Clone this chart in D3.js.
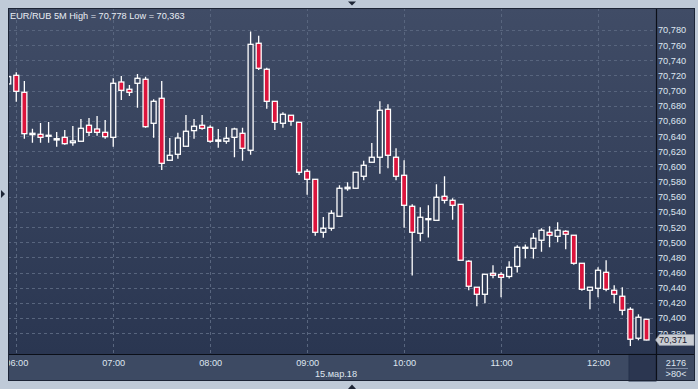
<!DOCTYPE html>
<html>
<head>
<meta charset="utf-8">
<script src="https://cdn.jsdelivr.net/npm/d3@7"></script>
<style>
  html, body { margin: 0; padding: 0; background: #bfcad8; overflow: hidden; }
  svg { display: block; font-family: "Liberation Sans", Arial, sans-serif; }
</style>
</head>
<body>
<div id="chart"></div>
<script>
// EUR/RUB 5 minute bars, 15.03.2018, first visible bar 05:55
const symbol = "EUR/RUB 5M";
const firstBar = "2018-03-15T05:55";
const dateLabel = "15.мар.18";
const barsTotal = 2176;
const barsVisible = 80;

const open = [
  70.7088, 70.7202, 70.6978, 70.6419, 70.6424, 70.6398, 70.6349, 70.6384, 70.6313, 70.6332,
  70.6543, 70.6494, 70.6450, 70.6384, 70.7114, 70.7018, 70.7097, 70.7150, 70.6569, 70.6899,
  70.6081, 70.6160, 70.6266, 70.6472, 70.6543, 70.6516, 70.6332, 70.6332, 70.6384, 70.6437,
  70.6213, 70.7625, 70.7282, 70.6859, 70.6569, 70.6675, 70.6582, 70.5936, 70.5830, 70.5131,
  70.5184, 70.5342, 70.5706, 70.5712, 70.5870, 70.6055, 70.6121, 70.6754, 70.6121, 70.5883,
  70.5474, 70.5118, 70.5297, 70.5289, 70.5606, 70.5553, 70.5500, 70.4749, 70.4406, 70.4313,
  70.4590, 70.4574, 70.4548, 70.4680, 70.4920, 70.4920, 70.5026, 70.5131, 70.5078, 70.5144,
  70.5092, 70.4722, 70.4366, 70.4392, 70.4603, 70.4366, 70.4287, 70.4115, 70.3733, 70.3983
];
const high = [
  70.7206, 70.7242, 70.7127, 70.6498, 70.6573, 70.6586, 70.6454, 70.6481, 70.6534, 70.6626,
  70.6639, 70.6665, 70.6613, 70.7163, 70.7193, 70.7074, 70.7220, 70.7184, 70.6886, 70.7127,
  70.6375, 70.6445, 70.6679, 70.6626, 70.6679, 70.6543, 70.6494, 70.6520, 70.6511, 70.6511,
  70.7780, 70.7725, 70.7303, 70.6859, 70.6714, 70.6675, 70.6582, 70.5966, 70.5830, 70.5333,
  70.5421, 70.5751, 70.5791, 70.5923, 70.6076, 70.6309, 70.6859, 70.6820, 70.6239, 70.6081,
  70.5500, 70.5461, 70.5487, 70.5764, 70.5871, 70.5580, 70.5500, 70.4762, 70.4406, 70.4577,
  70.4696, 70.4603, 70.4749, 70.4960, 70.4970, 70.5122, 70.5184, 70.5210, 70.5263, 70.5158,
  70.5092, 70.4722, 70.4406, 70.4669, 70.4762, 70.4432, 70.4406, 70.4142, 70.4049, 70.3983
];
const low = [
  70.7061, 70.6854, 70.6366, 70.6313, 70.6313, 70.6313, 70.6260, 70.6287, 70.6274, 70.6332,
  70.6402, 70.6406, 70.6366, 70.6260, 70.6877, 70.6929, 70.6775, 70.6511, 70.6379, 70.5953,
  70.6081, 70.6102, 70.6266, 70.6366, 70.6485, 70.6313, 70.6247, 70.6300, 70.6121, 70.6076,
  70.6155, 70.7272, 70.6762, 70.6481, 70.6511, 70.6536, 70.5887, 70.5627, 70.5086, 70.5060,
  70.5152, 70.5342, 70.5680, 70.5712, 70.5817, 70.6055, 70.5904, 70.5975, 70.5817, 70.5192,
  70.4561, 70.5012, 70.5063, 70.5289, 70.5511, 70.5297, 70.4762, 70.4366, 70.4155, 70.4194,
  70.4524, 70.4274, 70.4522, 70.4601, 70.4785, 70.4783, 70.4875, 70.4933, 70.4999, 70.4907,
  70.4704, 70.4361, 70.4115, 70.4274, 70.4353, 70.4194, 70.4036, 70.3630, 70.3706, 70.3705
];
const close = [
  70.7184, 70.6991, 70.6432, 70.6437, 70.6384, 70.6411, 70.6366, 70.6300, 70.6336, 70.6503,
  70.6450, 70.6450, 70.6392, 70.7097, 70.7004, 70.6978, 70.7163, 70.6524, 70.6859, 70.6041,
  70.6147, 70.6375, 70.6464, 70.6530, 70.6503, 70.6332, 70.6349, 70.6371, 70.6494, 70.6239,
  70.7611, 70.7295, 70.6859, 70.6582, 70.6688, 70.6596, 70.5923, 70.5830, 70.5131, 70.5184,
  70.5382, 70.5712, 70.5725, 70.5923, 70.6015, 70.6121, 70.6741, 70.6147, 70.5870, 70.5487,
  70.5131, 70.5329, 70.5311, 70.5593, 70.5553, 70.5487, 70.4762, 70.4419, 70.4313, 70.4577,
  70.4564, 70.4537, 70.4669, 70.4933, 70.4933, 70.5052, 70.5158, 70.5092, 70.5158, 70.5105,
  70.4722, 70.4379, 70.4406, 70.4630, 70.4379, 70.4313, 70.4102, 70.3720, 70.4010, 70.3710
];

const priceTicks = [70.78, 70.76, 70.74, 70.72, 70.70, 70.68, 70.66, 70.64, 70.62, 70.60,
  70.58, 70.56, 70.54, 70.52, 70.50, 70.48, 70.46, 70.44, 70.42, 70.40, 70.38];
const hourTicks = ["06:00", "07:00", "08:00", "09:00", "10:00", "11:00", "12:00"];

const width = 698, height = 389;
const plot = { left: 8, top: 8, right: 656, bottom: 354 };
const frameRight = 695, frameBottom = 381;

const parseBar = d3.timeParse("%Y-%m-%dT%H:%M");
const parseHour = d3.timeParse("%Y-%m-%d %H:%M");
const t0 = parseBar(firstBar);
const bars = open.map((o, i) => ({
  time: d3.timeMinute.offset(t0, i * 5),
  open: o, high: high[i], low: low[i], close: close[i]
}));

const x = d3.scaleTime()
  .domain([t0, d3.timeMinute.offset(t0, barsVisible * 5)])
  .range([8.2, 654.6]);
const y = d3.scaleLinear()
  .domain([70.40, 70.78])
  .range([318, 30]);

const svg = d3.select("#chart").append("svg")
  .attr("width", width)
  .attr("height", height);

const defs = svg.append("defs");
const grad = defs.append("linearGradient")
  .attr("id", "bg")
  .attr("gradientUnits", "userSpaceOnUse")
  .attr("x1", 0).attr("y1", plot.top).attr("x2", 0).attr("y2", plot.bottom);
grad.append("stop").attr("offset", "0%").attr("stop-color", "#404c66");
grad.append("stop").attr("offset", "100%").attr("stop-color", "#2a3651");

defs.append("clipPath").attr("id", "plotClip")
  .append("rect")
  .attr("x", plot.left + 0.5).attr("y", plot.top)
  .attr("width", plot.right - plot.left - 0.5)
  .attr("height", plot.bottom - plot.top);
defs.append("clipPath").attr("id", "timeClip")
  .append("rect")
  .attr("x", plot.left + 1).attr("y", plot.bottom)
  .attr("width", plot.right - plot.left - 1)
  .attr("height", frameBottom - plot.bottom);

// panels
svg.append("rect")
  .attr("x", plot.left).attr("y", plot.top)
  .attr("width", frameRight - plot.left).attr("height", plot.bottom - plot.top)
  .attr("fill", "url(#bg)");
svg.append("rect")
  .attr("x", plot.left).attr("y", plot.bottom)
  .attr("width", frameRight - plot.left).attr("height", frameBottom - plot.bottom)
  .attr("fill", "#3d4a63");
svg.append("rect")
  .attr("x", 629).attr("y", plot.bottom)
  .attr("width", plot.right - 629).attr("height", frameBottom - plot.bottom)
  .attr("fill", "#2b3650")
  .attr("stroke", "#24304a");

// grid
const grid = svg.append("g").attr("clip-path", "url(#plotClip)");
grid.selectAll(".hgrid")
  .data(priceTicks)
  .enter().append("line")
  .attr("x1", plot.left).attr("x2", plot.right)
  .attr("y1", d => Math.round(y(d)) + 0.5).attr("y2", d => Math.round(y(d)) + 0.5)
  .attr("stroke", "#58657e")
  .attr("stroke-dasharray", "3,3");
grid.selectAll(".vgrid")
  .data(hourTicks)
  .enter().append("line")
  .attr("x1", d => Math.round(x(parseHour("2018-03-15 " + d))) + 0.5)
  .attr("x2", d => Math.round(x(parseHour("2018-03-15 " + d))) + 0.5)
  .attr("y1", plot.top).attr("y2", plot.bottom)
  .attr("stroke", "#58657e")
  .attr("stroke-dasharray", "3,3");

// candles
const candles = svg.append("g").attr("clip-path", "url(#plotClip)")
  .selectAll(".candle")
  .data(bars)
  .enter().append("g")
  .attr("transform", d => "translate(" + x(d.time) + ",0)");

candles.append("line")
  .attr("y1", d => y(d.high))
  .attr("y2", d => y(d.low))
  .attr("stroke", "#ffffff")
  .attr("stroke-width", 1.3);

candles.append("rect")
  .attr("x", -2.5)
  .attr("width", 5)
  .attr("y", d => y(Math.max(d.open, d.close)))
  .attr("height", d => Math.max(0.8, Math.abs(y(d.open) - y(d.close))))
  .attr("fill", d => d.close < d.open ? "#dc143c" : "url(#bg)")
  .attr("stroke", "#ffffff")
  .attr("stroke-width", 1.3);

// price axis
const fmt = d => d3.format(".3f")(d).replace(".", ",");
const yAxis = svg.append("g")
  .attr("transform", "translate(" + plot.right + ",0)")
  .call(d3.axisRight(y).tickValues(priceTicks).tickSize(0).tickPadding(2).tickFormat(fmt));
yAxis.select(".domain").remove();
yAxis.selectAll("text")
  .attr("fill", "#dfe6f0")
  .style("font-size", "9.2px");

// time axis
const xAxis = svg.append("g")
  .attr("transform", "translate(0," + plot.bottom + ")")
  .attr("clip-path", "url(#timeClip)")
  .call(d3.axisBottom(x)
    .tickValues(hourTicks.map(h => parseHour("2018-03-15 " + h)))
    .tickSize(0).tickPadding(5.5)
    .tickFormat(d3.timeFormat("%H:%M")));
xAxis.select(".domain").remove();
xAxis.selectAll("text")
  .attr("fill", "#dfe6f0")
  .style("font-size", "9.2px");
xAxis.attr("clip-path", null);
xAxis.selectAll(".tick").attr("clip-path", null);
svg.append("g").attr("clip-path", "url(#timeClip)").node().appendChild(xAxis.node());

svg.append("text")
  .attr("x", 336).attr("y", 377)
  .attr("text-anchor", "middle")
  .attr("fill", "#dfe6f0")
  .style("font-size", "9.2px")
  .text(dateLabel);

// separators and frame
svg.append("line")
  .attr("x1", plot.left).attr("x2", frameRight)
  .attr("y1", plot.bottom + 0.5).attr("y2", plot.bottom + 0.5)
  .attr("stroke", "#0b0f18").attr("stroke-width", 1.2);
svg.append("line")
  .attr("x1", plot.right + 0.5).attr("x2", plot.right + 0.5)
  .attr("y1", plot.top).attr("y2", frameBottom)
  .attr("stroke", "#0b0f18").attr("stroke-width", 1.2);
svg.append("rect")
  .attr("x", plot.left + 0.5).attr("y", plot.top + 0.5)
  .attr("width", frameRight - plot.left - 1).attr("height", frameBottom - plot.top - 1)
  .attr("fill", "none")
  .attr("stroke", "#1c2436");

// header
svg.append("text")
  .attr("x", 10).attr("y", 18.5)
  .attr("fill", "#e8edf4")
  .style("font-size", "9.2px")
  .text(symbol + " High = " + fmt(d3.max(high)) + " Low = " + fmt(d3.min(low)));

// last price marker
const last = bars[bars.length - 1];
const ly = y(last.close);
svg.append("path")
  .attr("d", "M" + (plot.right - 0.5) + "," + ly + " L" + (plot.right + 3.5) + "," + (ly - 5.5) +
    " L" + (frameRight - 1) + "," + (ly - 5.5) + " L" + (frameRight - 1) + "," + (ly + 5.5) +
    " L" + (plot.right + 3.5) + "," + (ly + 5.5) + " Z")
  .attr("fill", "#c9cdd3")
  .attr("stroke", "#8d96a6")
  .attr("stroke-width", 0.6);
svg.append("text")
  .attr("x", plot.right + 3).attr("y", ly + 3.3)
  .attr("fill", "#1a2030")
  .style("font-size", "9.2px")
  .text(fmt(last.close));

// bar counters
svg.append("text")
  .attr("x", 676).attr("y", 366)
  .attr("text-anchor", "middle")
  .attr("fill", "#dfe6f0")
  .style("font-size", "9.2px")
  .text(barsTotal);
svg.append("line")
  .attr("x1", 666).attr("x2", 688)
  .attr("y1", 368.5).attr("y2", 368.5)
  .attr("stroke", "#7d8aa1");
svg.append("text")
  .attr("x", 676).attr("y", 377)
  .attr("text-anchor", "middle")
  .attr("fill", "#dfe6f0")
  .style("font-size", "9.2px")
  .text(">" + barsVisible + "<");

// scroll markers
svg.append("path").attr("d", "M348,1.5 L356,1.5 L352,5.5 Z").attr("fill", "#1d2535");
svg.append("path").attr("d", "M1,190 L5,194 L1,198 Z").attr("fill", "#1d2535");
svg.append("path").attr("d", "M348,389 L356,389 L352,384.5 Z").attr("fill", "#1d2535");
</script>
</body>
</html>
